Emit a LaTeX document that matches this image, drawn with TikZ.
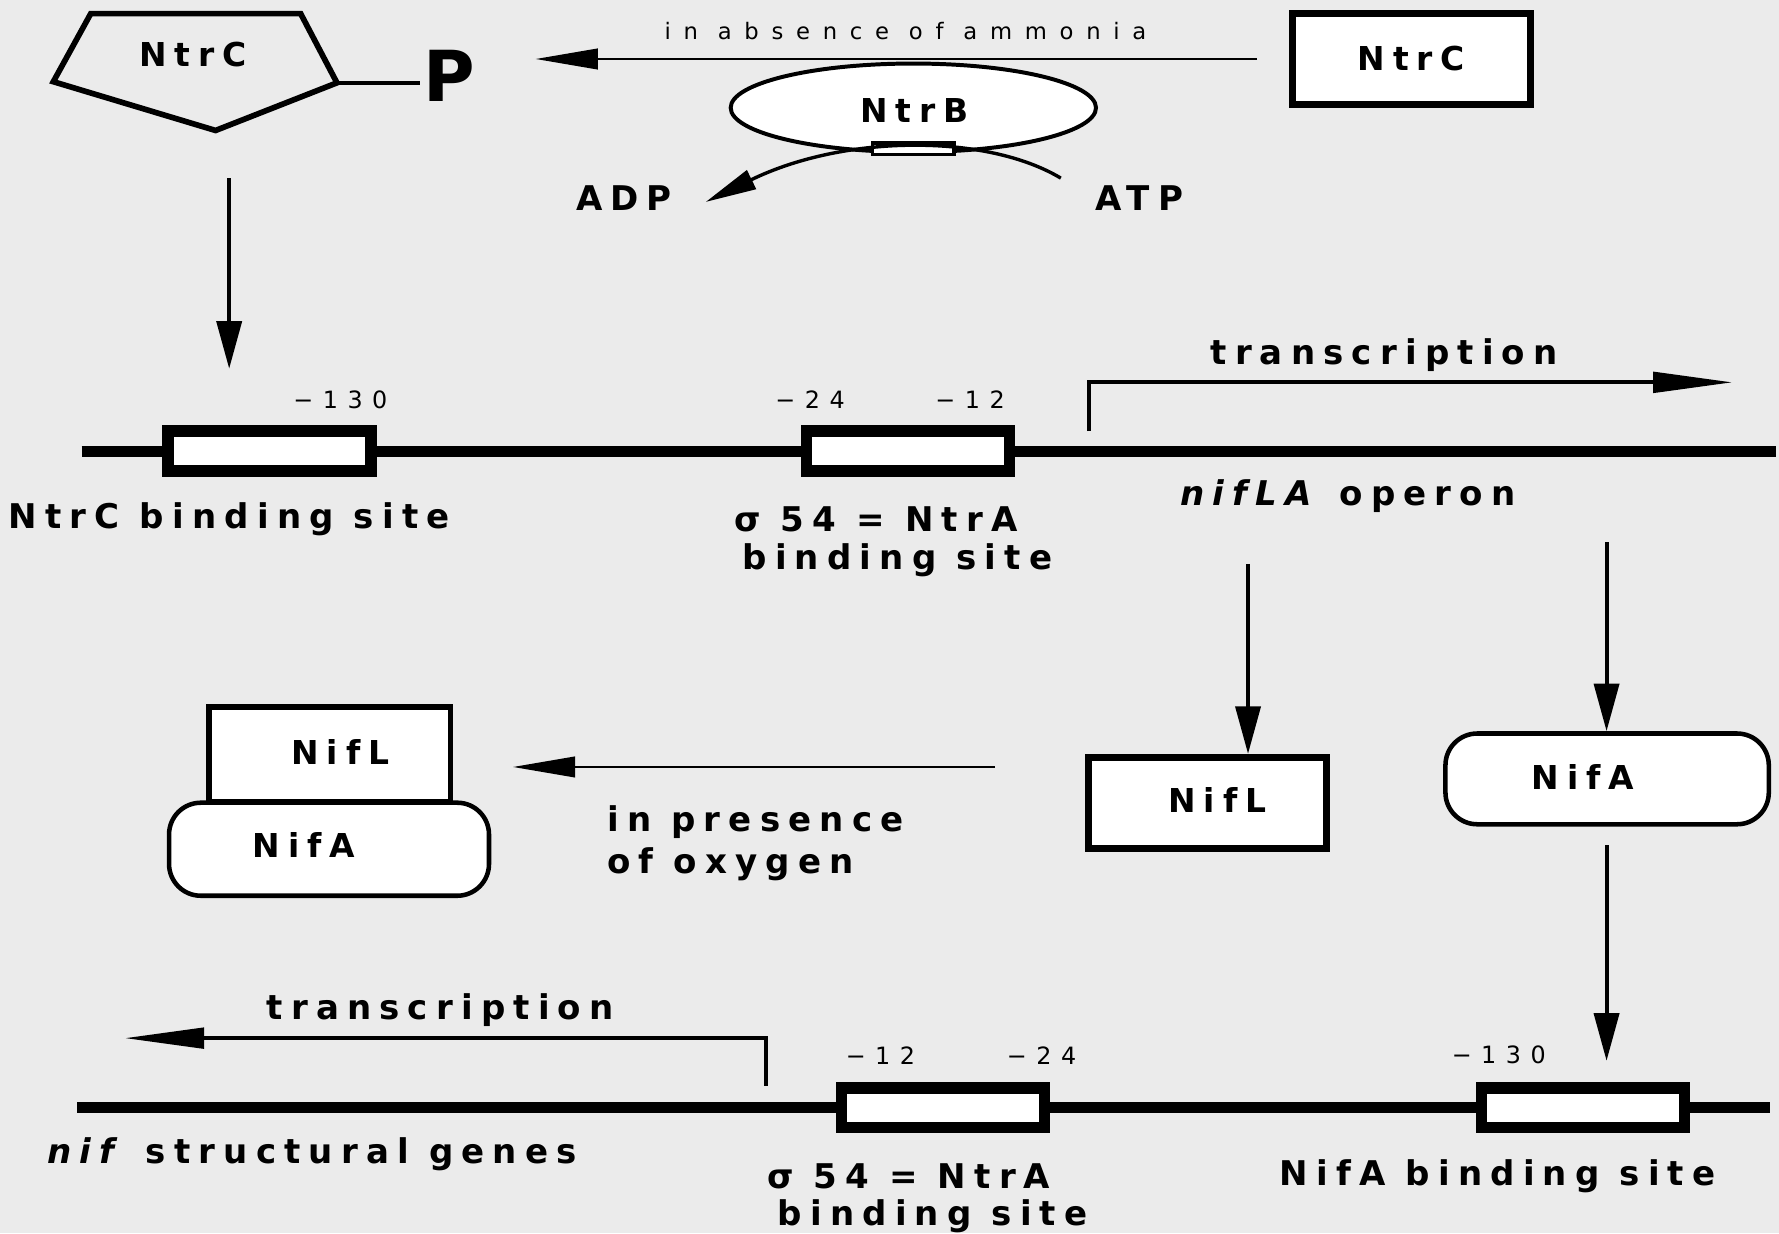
\documentclass[tikz,border=0pt]{standalone}
\usepackage{fontspec}
\setmainfont{DejaVu Sans}
\newfontfamily\spacedfont[LetterSpace=56]{DejaVu Sans}
\newfontfamily\numfont[LetterSpace=40]{DejaVu Sans}
\newfontfamily\lblfont[LetterSpace=24]{DejaVu Sans}
\usetikzlibrary{arrows.meta,shapes.geometric}
\definecolor{bgc}{RGB}{235,235,235}
\begin{document}
\begin{tikzpicture}[x=1pt,y=-1pt,
  lbl/.style={font=\lblfont\fontsize{30}{32}\selectfont\bfseries, inner sep=0},
  num/.style={font=\numfont\fontsize{21}{22}\selectfont, inner sep=0},
  prot/.style={font=\lblfont\fontsize{29}{30}\selectfont\bfseries, inner sep=0},
  arr/.style={line width=3.5pt, -{Triangle[length=42pt,width=22pt]}},
  harr/.style={line width=2.5pt, -{Triangle[length=55pt,width=18pt]}},
  dna/.style={line width=10pt},
  site/.style={draw, line width=10pt, fill=white, minimum width=179pt, minimum height=35pt, inner sep=0},
  pbox/.style={draw, line width=6pt, fill=white, inner sep=0},
  rbox/.style={draw, line width=4pt, fill=white, rounded corners=28pt, inner sep=0},
]
\fill[bgc] (0,0) rectangle (1568,1087);
\useasboundingbox (0,0) rectangle (1568,1087);

% ---------- top ----------
\draw[line width=5pt, line join=miter] (80,12) -- (265,12) -- (297,73) -- (190,115) -- (47,72) -- cycle;
\node[prot] (ntrcP) at (170,48) {NtrC};
\node[font=\fontsize{62}{64}\selectfont\bfseries, inner sep=0] (P) at (396,67) {P};
\coordinate (pentR) at (297,73);
\draw[line width=3pt] (pentR) -- (370,73);

\node[pbox, minimum width=210pt, minimum height=80pt] (ntrcbox) at (1244,52) {};
\node[prot] at (ntrcbox) {NtrC};

\coordinate (absStart) at (1108,52);
\coordinate (absTip) at (472,52);
\draw[harr] (absStart) -- (absTip);
\node[font=\spacedfont\fontsize{20}{22}\selectfont, inner sep=0] (absence) at (798,27) {in absence of ammonia};

\node[draw, ellipse, line width=3.5pt, fill=white, minimum width=322pt, minimum height=78pt, inner sep=0] (ntrb) at (805,95) {};
\node[prot] at (806,97) {NtrB};
\node[draw, line width=3pt, fill=white, minimum width=72pt, minimum height=10pt, inner sep=0] (site0) at (805,131) {};

\node[lbl] (adp) at (550,175) {ADP};
\node[lbl] (atp) at (1004,175) {ATP};
\coordinate (atpEnd) at (935,157);
\coordinate (adpTip) at (622,178);
\draw[line width=3pt, -{Triangle[length=45pt,width=18pt]}] (atpEnd) .. controls (870,118) and (745,118) .. (adpTip);

% ---------- DNA line 1 ----------
\coordinate (d1L) at (72,398);
\coordinate (d1R) at (1565,398);
\draw[dna] (d1L) -- (d1R);
\node[site] (ntrcsite) at (237.5,397.5) {};
\node[site] (sig1) at (800.5,397.5) {};
\node[num] at (300,352) {−130};
\node[num] at (714,352) {−24};
\node[num] at (855,352) {−12};

\coordinate (tss1) at (960,380);
\coordinate (tr1tip) at (1527,337);
\draw[line width=3.5pt, -{Triangle[length=70pt,width=18pt]}] (tss1) |- (tr1tip);
\node[lbl] at (1220,313) {transcription};

\node[lbl] at (202,458) {NtrC binding site};
\node[lbl] at (772,458) {σ 54 = NtrA};
\node[lbl] at (791,494) {binding site};
\node[lbl] at (1188,437) {\textit{nifLA} operon};

\coordinate (pentArrS) at (202,157);
\coordinate (pentArrE) at (202,325);
\draw[arr] (pentArrS) -- (pentArrE);

% ---------- middle ----------
\node[pbox, minimum width=210pt, minimum height=80pt] (nifl) at (1064.5,707.5) {};
\node[prot] at (1073,705) {NifL};
\node[rbox, minimum width=285pt, minimum height=80pt] (nifa) at (1416.5,686.5) {};
\node[prot] at (1395,685) {NifA};

\coordinate (op1) at (1100,497);
\coordinate (op2) at (1416,478);
\draw[arr] (op1) -- (op1 |- nifl.north);
\draw[arr] (op2) -- (op2 |- nifa.north);

\node[pbox, line width=5pt, minimum width=213pt, minimum height=84pt] (cnifl) at (290.5,665) {};
\node[rbox, minimum width=282pt, minimum height=82pt] (cnifa) at (290,748.5) {};
\node[prot] at (300,663) {NifL};
\node[prot] at (268,745) {NifA};

\coordinate (oxS) at (877,676);
\coordinate (oxTip) at (452,676);
\draw[harr] (oxS) -- (oxTip);
\node[lbl, anchor=west] at (535,725) {in presence};
\node[lbl, anchor=west] at (535,762) {of oxygen};

% ---------- DNA line 2 ----------
\coordinate (d2L) at (68,976);
\coordinate (d2R) at (1560,976);
\draw[dna] (d2L) -- (d2R);
\node[site] (sig2) at (831,976.5) {};
\node[site] (nifasite) at (1395,976.5) {};
\node[num] at (776,930) {−12};
\node[num] at (918,930) {−24};
\node[num] at (1321,930) {−130};

\coordinate (nifaArrS) at (1416,745);
\coordinate (nifaArrE) at (1416,935);
\draw[arr] (nifaArrS) -- (nifaArrE);

\coordinate (tss2) at (675,957);
\coordinate (tr2tip) at (110,915);
\draw[line width=3.5pt, -{Triangle[length=70pt,width=18pt]}] (tss2) |- (tr2tip);
\node[lbl] at (388,890) {transcription};

\node[lbl] at (275,1017) {\textit{nif} structural genes};
\node[lbl] at (801,1037) {σ 54 = NtrA};
\node[lbl] at (822,1072) {binding site};
\node[lbl] at (1320,1037) {NifA binding site};
\end{tikzpicture}
\end{document}
